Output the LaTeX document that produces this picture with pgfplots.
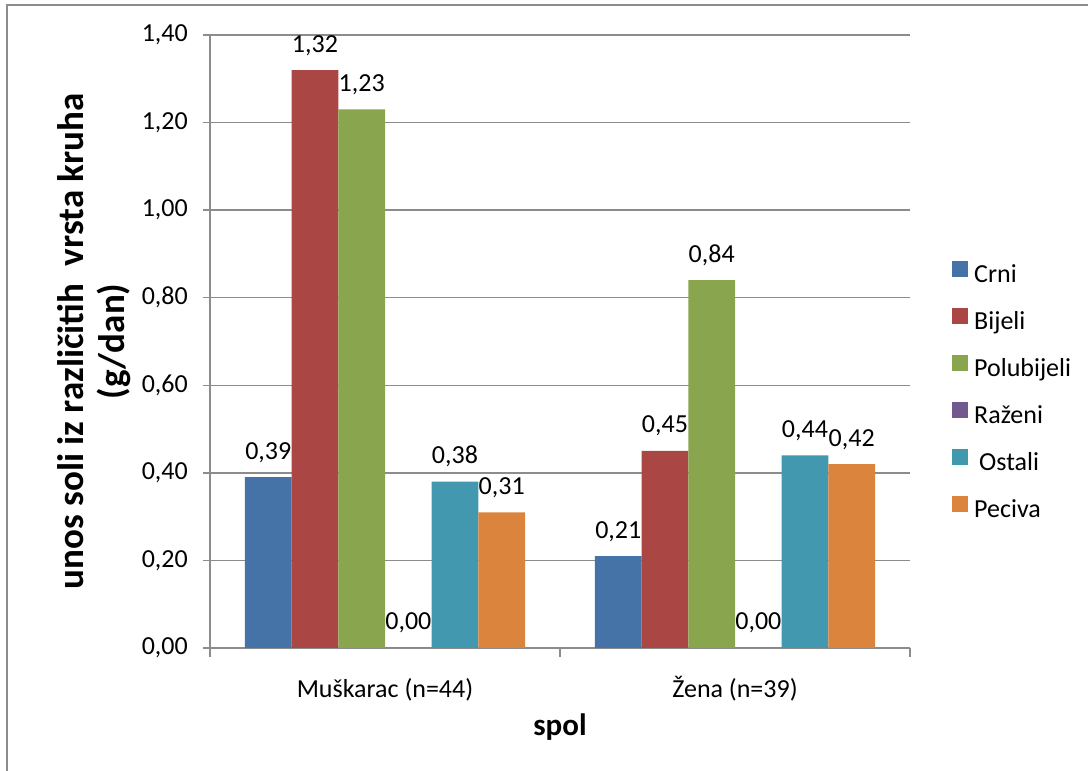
\documentclass[border=0pt]{standalone}
\usepackage{pgfplots}
\pgfplotsset{compat=1.18}
\usepackage{fontspec}
\setmainfont{Carlito}
\definecolor{cCrni}{HTML}{4572A7}
\definecolor{cBijeli}{HTML}{AA4643}
\definecolor{cPolu}{HTML}{89A54E}
\definecolor{cRaz}{HTML}{71588F}
\definecolor{cOst}{HTML}{4198AF}
\definecolor{cPec}{HTML}{DB843D}
\definecolor{gridgray}{HTML}{8C8C8C}
\pgfplotsset{/pgf/number format/.cd, fixed, fixed zerofill, precision=2, use comma, assume math mode=true}
\begin{document}
\begin{tikzpicture}
\path[use as bounding box] (0,0) rectangle (1088pt,771pt);
\draw[color=gridgray, line width=2.5pt] (7pt,0) -- (7pt,766pt) -- (1088pt,766pt);
\begin{axis}[
  at={(210pt,123pt)}, anchor=south west, scale only axis,
  width=700pt, height=613pt,
  ybar=0pt, bar width=46.67pt,
  xmin=-0.5, xmax=1.5, ymin=0, ymax=1.4,
  xtick={0,1}, xticklabels={Muškarac (n=44), Žena (n=39)},
  ytick={0,0.2,0.4,0.6,0.8,1.0,1.2,1.4},
  axis x line=bottom, axis y line=left,
  axis line style={gridgray, line width=1.3pt, -},
  ymajorgrids, grid style={gridgray, line width=1.3pt},
  tick align=outside,
  major tick length=7pt,
  tick style={gridgray, line width=1.3pt},
  xtick style={draw=none},
  extra x ticks={-0.5,0.5,1.5}, extra x tick labels={},
  extra x tick style={xtick style={draw=gridgray, line width=1.3pt}, major tick length=9pt},
  tick label style={font=\fontsize{26}{30}\selectfont, text=black},
  yticklabel style={anchor=east, inner sep=0pt, xshift=-15pt},
  xticklabel style={anchor=base, inner sep=0pt, yshift=-43pt},
  nodes near coords,
  nodes near coords style={font=\fontsize{26}{30}\selectfont, anchor=base, inner sep=0pt, yshift=18pt, text=black},
  ylabel={unos soli iz različitih\hspace{0.25em} vrsta kruha\\[8pt](g/dan)},
  ylabel style={at={(axis description cs:-0.1657,0.5)}, anchor=center, align=center, inner sep=0pt, font=\fontsize{37}{33}\selectfont\bfseries},
  xlabel={spol},
  xlabel style={at={(axis description cs:0.5,-0.129)}, anchor=center, inner sep=0pt, font=\fontsize{31}{36}\selectfont\bfseries},
  legend style={at={(axis description cs:1.06,0.4176)}, anchor=west, draw=none, fill=none, inner sep=0pt,
    font=\fontsize{26}{30}\selectfont, row sep=20pt,
    nodes={inner sep=0pt, text height=18pt, text depth=6pt},
    /tikz/every odd column/.append style={column sep=6pt}},
  legend image code/.code={\fill[#1] (0pt,-1pt) rectangle (16pt,15pt);},
  legend cell align=left,
]
\addplot[draw=none, fill=cCrni] coordinates {(0,0.39) (1,0.21)};
\addplot[draw=none, fill=cBijeli] coordinates {(0,1.32) (1,0.45)};
\addplot[draw=none, fill=cPolu] coordinates {(0,1.23) (1,0.84)};
\addplot[draw=none, fill=cRaz] coordinates {(0,0.00) (1,0.00)};
\addplot[draw=none, fill=cOst] coordinates {(0,0.38) (1,0.44)};
\addplot[draw=none, fill=cPec] coordinates {(0,0.31) (1,0.42)};
\legend{Crni, Bijeli, Polubijeli, Raženi, \hspace{5pt}Ostali, Peciva}
\end{axis}
\end{tikzpicture}
\end{document}
